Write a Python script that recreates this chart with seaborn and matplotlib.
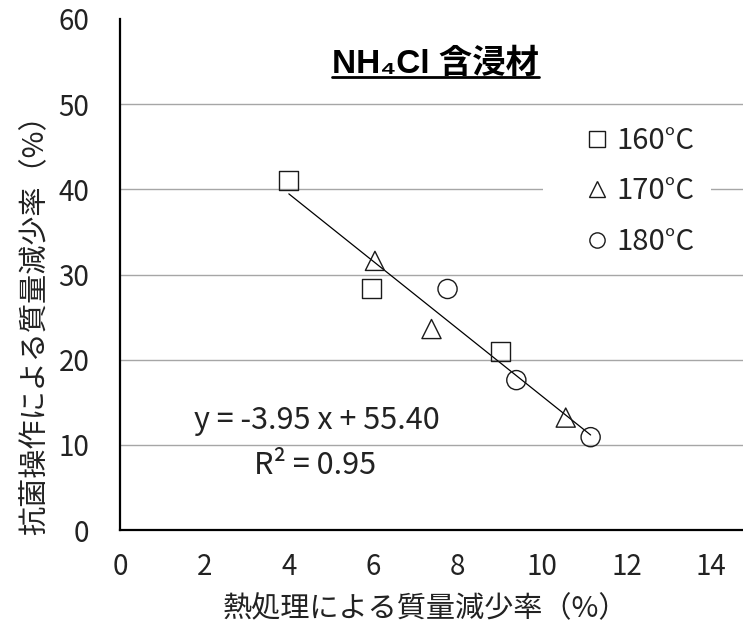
import numpy as np
import pandas as pd
import matplotlib
matplotlib.use("Agg")
import matplotlib.pyplot as plt
import seaborn as sns
from matplotlib.lines import Line2D

# ---- data ----
temps = ["160°C", "170°C", "180°C"]
x_160 = [4.00, 5.96, 9.02]
y_160 = [41.0, 28.4, 21.0]
x_170 = [6.04, 7.38, 10.56]
y_170 = [31.6, 23.6, 13.2]
x_180 = [7.76, 9.39, 11.15]
y_180 = [28.3, 17.6, 10.9]
marker_map = {"160°C": "s", "170°C": "^", "180°C": "o"}

x_ticks = [0, 2, 4, 6, 8, 10, 12, 14]
y_ticks = [0, 10, 20, 30, 40, 50, 60]

title_text = "NH₄Cl 含浸材"
xlabel_text = "熱処理による質量減少率（%）"
ylabel_text = "抗菌操作による質量減少率（%）"
eq_text = "y = -3.95 x + 55.40"
r2_text = "R² = 0.95"

df = pd.DataFrame({
    "x": x_160 + x_170 + x_180,
    "y": y_160 + y_170 + y_180,
    "temp": [temps[0]] * len(x_160) + [temps[1]] * len(x_170) + [temps[2]] * len(x_180),
})

sns.set_theme(style="white")
plt.rcParams["font.family"] = ["Noto Sans CJK JP", "DejaVu Sans"]

W, H = 743, 629
fig = plt.figure(figsize=(W / 100, H / 100), dpi=100)
ax_l, ax_r, ax_t, ax_b = 120, 743, 19, 530
ax = fig.add_axes([ax_l / W, 1 - ax_b / H, (ax_r - ax_l) / W, (ax_b - ax_t) / H])

ax.set_xlim(0, 14.76)
ax.set_ylim(0, 60)

# horizontal grid lines (not at the top)
for yv in y_ticks[1:-1]:
    ax.axhline(yv, color="#a6a6a6", lw=1.0, zorder=0)

edge = "#1a1a1a"
sns.regplot(data=df, x="x", y="y", scatter=False, ci=None, truncate=True,
            line_kws=dict(color="black", lw=0.9, zorder=2), ax=ax)
sns.scatterplot(data=df, x="x", y="y", style="temp", markers=marker_map,
                style_order=temps, s=190, facecolor="none", edgecolor=edge,
                linewidth=1.0, legend=False, ax=ax, zorder=3)

ax.set_xticks(x_ticks)
ax.set_yticks(y_ticks)
ax.tick_params(axis="both", direction="in", length=7, width=1, color="black",
               labelsize=20, labelcolor="#222222")
ax.tick_params(axis="x", pad=16)
ax.tick_params(axis="y", pad=22)

for s in ["top", "right"]:
    ax.spines[s].set_visible(False)
for s in ["left", "bottom"]:
    ax.spines[s].set_color("black")
    ax.spines[s].set_linewidth(1.6)

ax.set_xlabel(xlabel_text, fontsize=21, color="#222222")
ax.set_ylabel(ylabel_text, fontsize=21, color="#222222")
ax.xaxis.set_label_coords((425 - ax_l) / (ax_r - ax_l), (ax_b - 594) / (ax_b - ax_t))
ax.yaxis.set_label_coords((50 - ax_l) / (ax_r - ax_l), (ax_b - 318) / (ax_b - ax_t))

# legend
handles = [Line2D([], [], marker=marker_map[t], ls="none", mfc="none", mec=edge,
                  mew=1.0, ms=11) for t in temps]
leg = ax.legend(handles, temps, loc="upper left",
                bbox_to_anchor=((543 - ax_l) / (ax_r - ax_l), (ax_b - 110) / (ax_b - ax_t)),
                fontsize=21, frameon=True, facecolor="white", edgecolor="none",
                framealpha=1, fancybox=False, borderpad=0.55, labelspacing=0.7,
                handlelength=2.6, handletextpad=-0.62, borderaxespad=0)
for t in leg.get_texts():
    t.set_color("#222222")

# regression equation
ax.text((317 - ax_l) / (ax_r - ax_l), (ax_b - 421) / (ax_b - ax_t), eq_text,
        transform=ax.transAxes, ha="center", va="center", fontsize=22, color="#222222")
ax.text((315 - ax_l) / (ax_r - ax_l), (ax_b - 466) / (ax_b - ax_t), r2_text,
        transform=ax.transAxes, ha="center", va="center", fontsize=22, color="#222222")

# title with underline
ttl = ax.text((435.5 - ax_l) / (ax_r - ax_l), (ax_b - 73) / (ax_b - ax_t), title_text,
              transform=ax.transAxes, ha="center", va="baseline", fontsize=24,
              fontweight="bold", color="black",
              family=["Liberation Sans", "Noto Sans CJK JP", "DejaVu Sans"])
fig.canvas.draw()
bb = ttl.get_window_extent(renderer=fig.canvas.get_renderer())
uy = (H - 77) / H
fig.add_artist(Line2D([bb.x0 / W, bb.x1 / W], [uy, uy], color="black", lw=2.0))

fig.savefig("out.png", dpi=100)
